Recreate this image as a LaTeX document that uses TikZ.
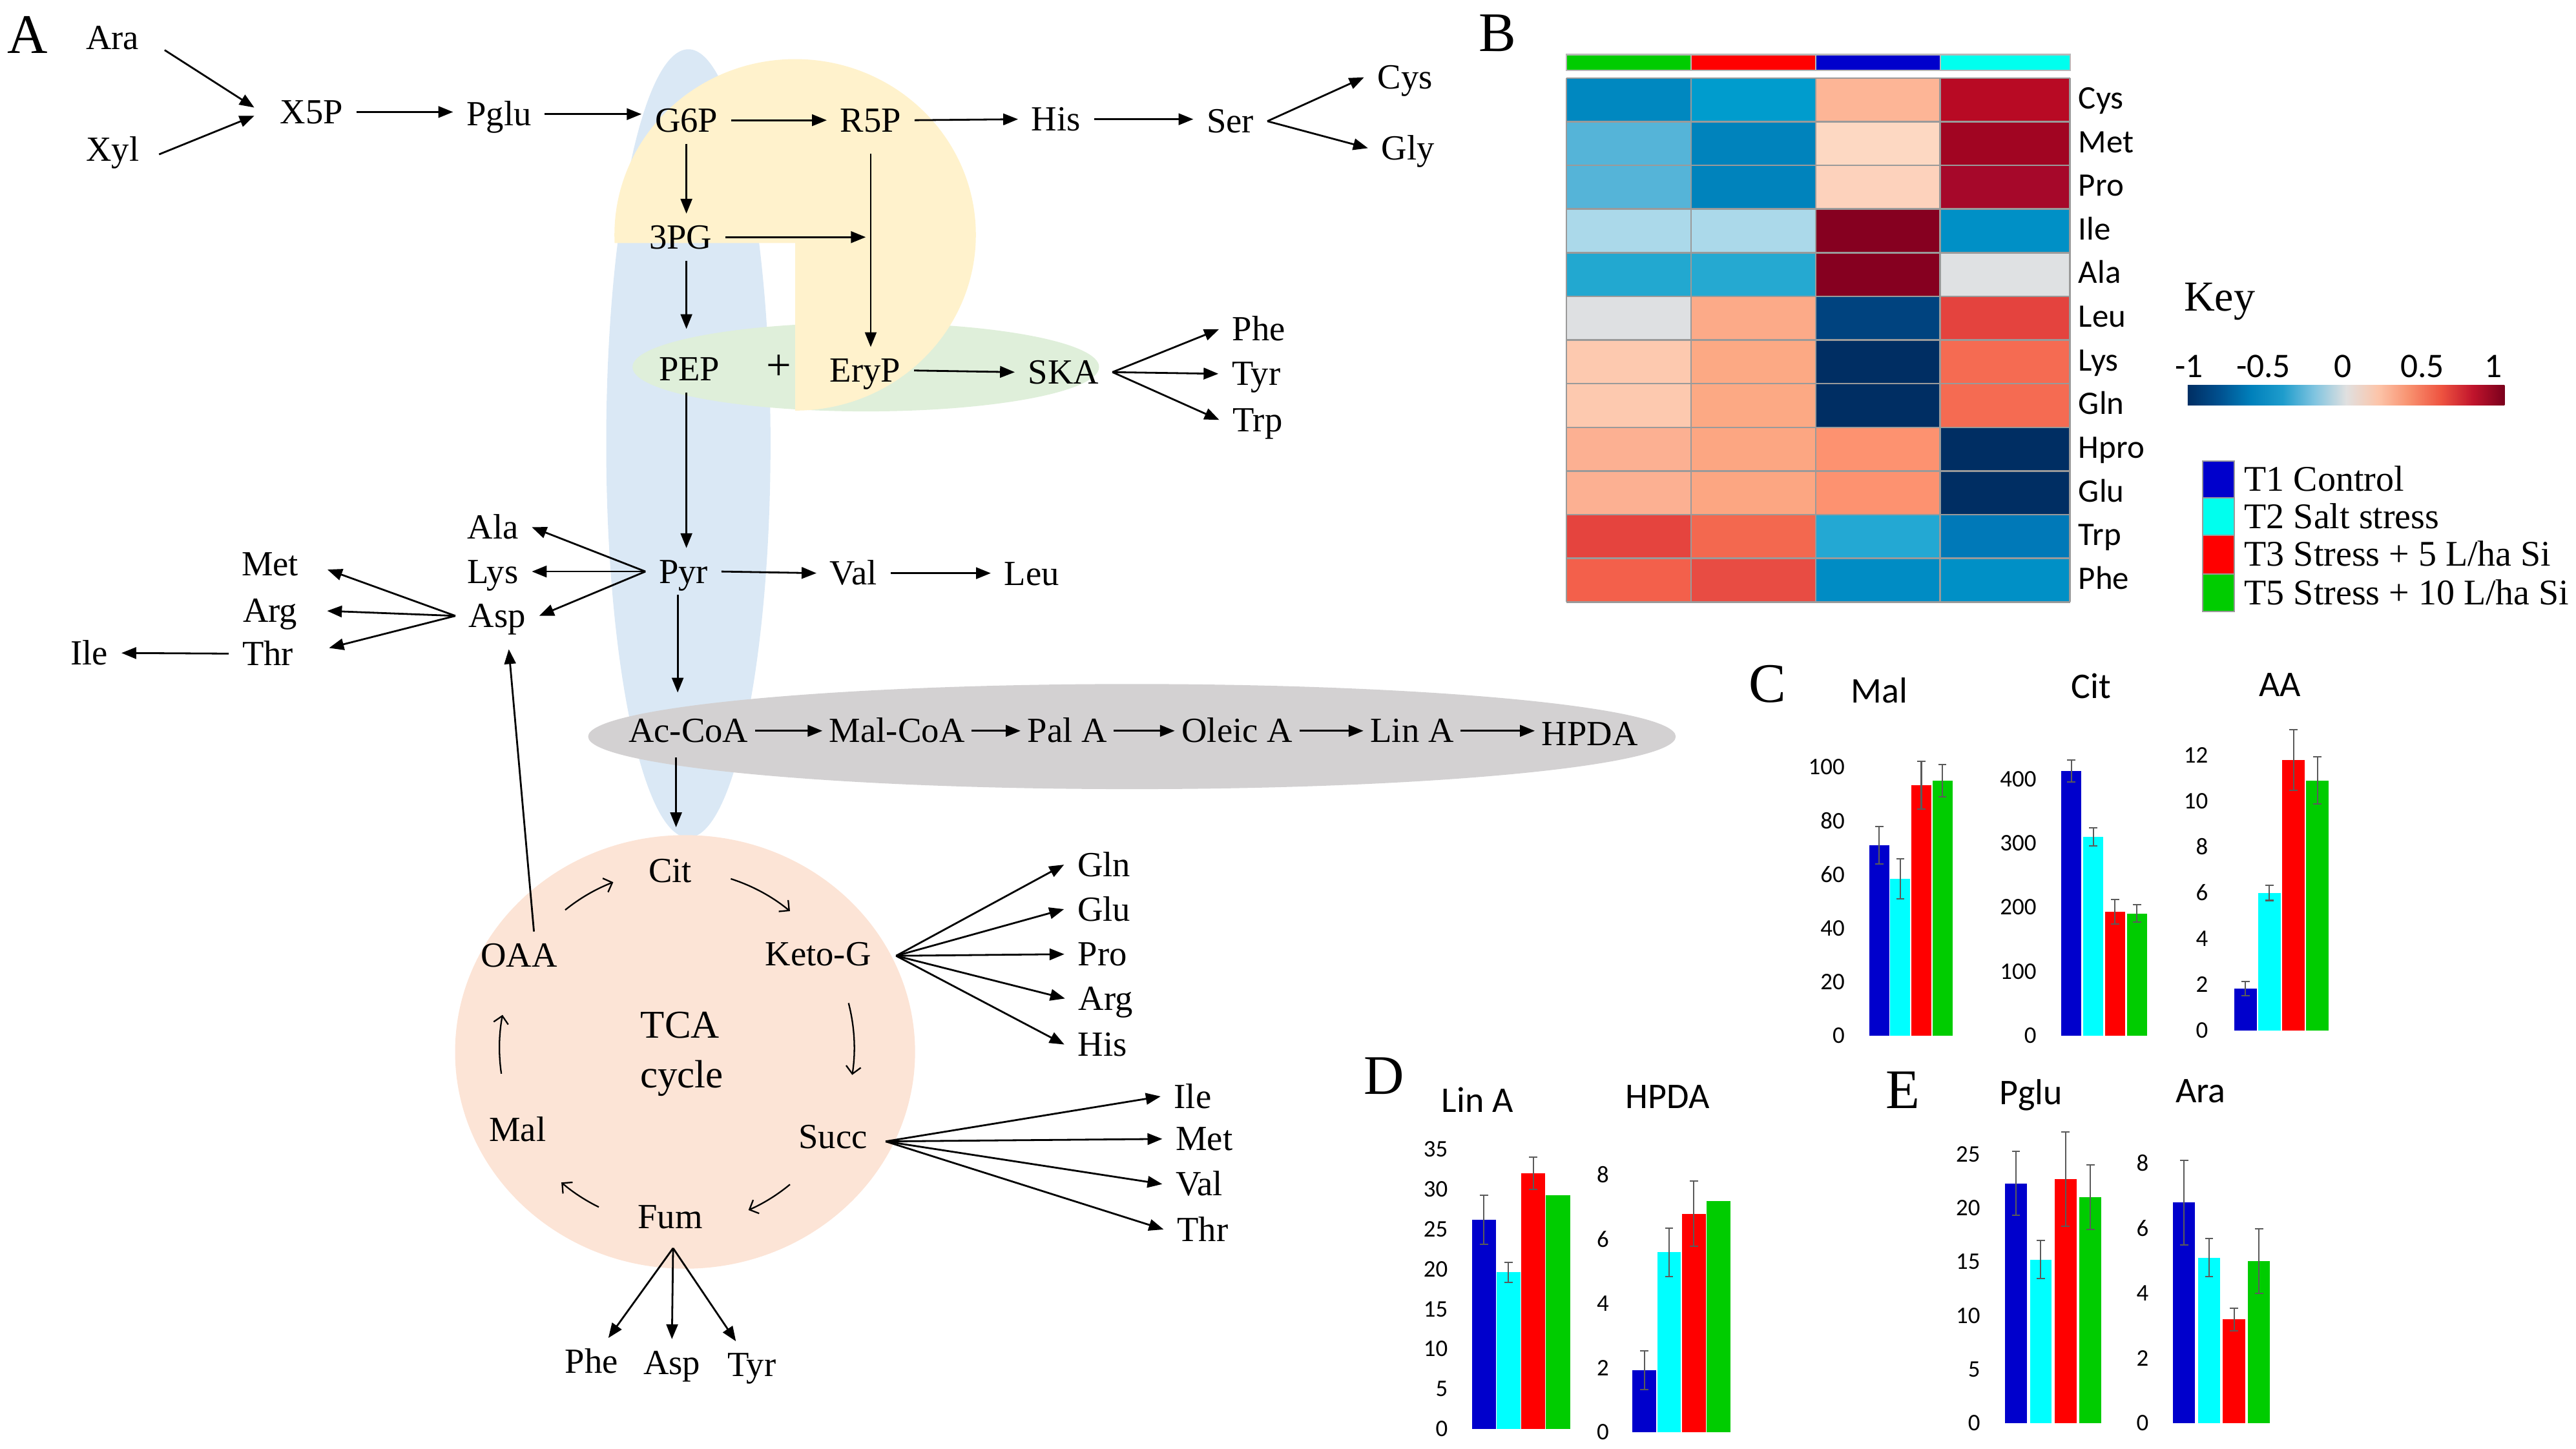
\documentclass[tikz,border=0pt]{standalone}
\usepackage{fontspec}
\setmainfont{Liberation Serif}
\newfontfamily\calfont{Carlito}
\usetikzlibrary{arrows.meta}
\definecolor{bgblue}{HTML}{DAE8F5}
\definecolor{bgyellow}{HTML}{FFF2CC}
\definecolor{bggreen}{HTML}{DFEFDA}
\definecolor{bggray}{HTML}{D3D1D2}
\definecolor{bgpeach}{HTML}{FCE4D6}
\definecolor{cb}{HTML}{0000CC}
\definecolor{cc}{HTML}{00FFFF}
\definecolor{cr}{HTML}{FF0000}
\definecolor{cg}{HTML}{00CC00}
\definecolor{gridc}{HTML}{9A9A9A}
\definecolor{errc}{HTML}{5A5A5A}
\definecolor{rb0}{HTML}{002E63}
\definecolor{rb1}{HTML}{00508F}
\definecolor{rb2}{HTML}{0080BB}
\definecolor{rb3}{HTML}{1E9CCC}
\definecolor{rb4}{HTML}{80C4E0}
\definecolor{rb5}{HTML}{E0E0E0}
\definecolor{rb6}{HTML}{FCC5AA}
\definecolor{rb7}{HTML}{F8906E}
\definecolor{rb8}{HTML}{EE5340}
\definecolor{rb9}{HTML}{C0142C}
\definecolor{rb10}{HTML}{7A001C}
\pgfdeclarehorizontalshading{rdbu}{100bp}{color(0bp)=(rb0); color(25bp)=(rb0); color(30bp)=(rb1); color(35bp)=(rb2); color(40bp)=(rb3); color(45bp)=(rb4); color(50bp)=(rb5); color(55bp)=(rb6); color(60bp)=(rb7); color(65bp)=(rb8); color(70bp)=(rb9); color(75bp)=(rb10); color(100bp)=(rb10)}
\newcommand{\barchart}[9]{%
 \foreach \t in {#8} {\node[tick] (#1t\t) at (#2,{#3-\t*#4}) {\t};}
 \foreach \vv/\ee/\cl [count=\k from 0] in {#9} {
   \pgfmathsetmacro\xa{#5+\k*#6}
   \pgfmathsetmacro\xb{\xa+#7}
   \pgfmathsetmacro\xc{\xa+#7/2}
   \pgfmathsetmacro\yt{#3-\vv*#4}
   \fill[\cl] (\xa,#3) rectangle (\xb,\yt);
   \ifdim\ee pt>0pt
     \pgfmathsetmacro\ya{\yt-\ee*#4}
     \pgfmathsetmacro\yb{\yt+\ee*#4}
     \draw[errb] (\xc,\ya) -- (\xc,\yb) (\xc-2.5,\ya) -- (\xc+2.5,\ya) (\xc-2.5,\yb) -- (\xc+2.5,\yb);
   \fi
 }}
\begin{document}
\begin{tikzpicture}[x=1pt,y=-1pt,
  pw/.style={font=\fontsize{21.5}{24}\selectfont, inner xsep=8pt, inner ysep=7pt, text height=14.2pt, text depth=0pt},
  chainn/.style={pw, inner xsep=4pt},
  tcat/.style={font=\fontsize{24}{26}\selectfont, inner sep=0pt, text height=15.8pt, text depth=0pt},
  lab/.style={font=\fontsize{34}{38}\selectfont, inner sep=0pt, text height=22.5pt, text depth=0pt},
  hml/.style={font=\calfont\fontsize{20}{22}\selectfont, anchor=west, inner sep=0pt, text height=12.9pt, text depth=0pt},
  keyn/.style={font=\calfont\fontsize{21}{23}\selectfont, inner sep=0pt, text height=13.3pt, text depth=0pt},
  ttl/.style={font=\calfont\fontsize{22}{24}\selectfont, inner sep=0pt, text height=14.2pt, text depth=0pt},
  tick/.style={font=\calfont\fontsize{14.5}{16}\selectfont, anchor=east, inner sep=0pt, text height=9.2pt, text depth=0pt},
  leg/.style={font=\fontsize{22}{24}\selectfont, anchor=west, inner sep=0pt, text height=14.6pt, text depth=0pt},
  arr/.style={line width=1.1pt, -{Triangle[length=9pt,width=7pt]}},
  cyc/.style={line width=0.9pt, -{Straight Barb[length=4.5pt,width=9pt]}},
  errb/.style={line width=0.8pt, draw=errc},
  gridl/.style={line width=1pt, draw=gridc}]
\useasboundingbox (0,0) rectangle (1568,882);

% ---------- background shapes ----------
\fill[bgblue] (419,270) ellipse [x radius=50, y radius=240];
\fill[bggreen] (527,223.5) ellipse [x radius=142, y radius=27];
\begin{scope}
 \clip (360,20) -- (610,20) -- (610,270) -- (484,270) -- (484,148) -- (360,148) -- cycle;
 \fill[bgyellow] (484,143) ellipse [x radius=110, y radius=107];
\end{scope}
\fill[bggray] (689,448.5) ellipse [x radius=331, y radius=32];
\fill[bgpeach] (417,640.5) ellipse [x radius=140, y radius=132];

% ---------- panel letters ----------
\node[lab] (lA) at (16.8,21) {A};
\node[lab] (lB) at (911.4,20) {B};
\node[lab] (lC) at (1076,416.5) {C};
\node[lab] (lD) at (842.5,655) {D};
\node[lab] (lE) at (1158.3,663.7) {E};

% ---------- pathway nodes ----------
\node[pw] (ara) at (68.5,23) {Ara};
\node[pw] (xyl) at (68.5,91) {Xyl};
\node[pw] (x5p) at (189.6,68.2) {X5P};
\node[pw] (pglu) at (303.7,69.5) {Pglu};
\node[pw] (g6p) at (417.8,73.2) {G6P};
\node[pw] (r5p) at (530,73.2) {R5P};
\node[pw] (his1) at (642.8,72.6) {His};
\node[pw] (ser) at (748.9,73.8) {Ser};
\node[pw] (cys) at (855.2,47.1) {Cys};
\node[pw] (gly) at (857,90.2) {Gly};
\node[pw] (pg3) at (414.3,144.4) {3PG};
\node[pw] (pep) at (419.6,224.6) {PEP};
\node[font=\fontsize{27}{29}\selectfont, inner sep=0pt] (plus) at (474,223.6) {+};
\node[pw] (eryp) at (526.7,225.6) {EryP};
\node[pw] (ska) at (647.4,226.6) {SKA};
\node[pw] (phe1) at (766.3,200.5) {Phe};
\node[pw] (tyr1) at (764.6,227.6) {Tyr};
\node[pw] (trp1) at (765.5,255.7) {Trp};
\node[pw] (pyr) at (416,348) {Pyr};
\node[pw] (val1) at (519.5,349) {Val};
\node[pw] (leu1) at (628,349.5) {Leu};
\node[pw] (ala1) at (300,321) {Ala};
\node[pw] (lys1) at (300,348) {Lys};
\node[pw] (asp1) at (302.7,375) {Asp};
\node[pw] (met1) at (164.4,343.4) {Met};
\node[pw] (arg1) at (164.4,371.6) {Arg};
\node[pw] (thr1) at (163,398) {Thr};
\node[pw] (ile1) at (54.4,397.6) {Ile};
\node[chainn] (acoa) at (419,445) {Ac-CoA};
\node[chainn] (mcoa) at (546,445) {Mal-CoA};
\node[chainn] (pala) at (649.6,445) {Pal A};
\node[chainn] (olea) at (753,445) {Oleic A};
\node[chainn] (lina) at (859.5,445) {Lin A};
\node[chainn] (hpda) at (967.7,447) {HPDA};
\node[pw] (cit) at (408,530) {Cit};
\node[pw] (keto) at (498,581) {Keto-G};
\node[pw] (oaa) at (316,581.5) {OAA};
\node[tcat] (tca) at (414,624) {TCA};
\node[tcat] (cycle) at (415,654.5) {cycle};
\node[pw] (mal1) at (315,688) {Mal};
\node[pw] (succ) at (507,692) {Succ};
\node[pw] (fum) at (408,741) {Fum};
\node[pw] (gln2) at (672,526.5) {Gln};
\node[pw] (glu2) at (672,553.6) {Glu};
\node[pw] (pro2) at (671,581) {Pro};
\node[pw] (arg2) at (673,608) {Arg};
\node[pw] (his2) at (671,636) {His};
\node[pw] (ile2) at (726,667.6) {Ile};
\node[pw] (met2) at (733,693.5) {Met};
\node[pw] (val2) at (730,721) {Val};
\node[pw] (thr2) at (732,748.6) {Thr};
\node[pw] (phe2) at (360,829) {Phe};
\node[pw] (asp2) at (409,829.7) {Asp};
\node[pw] (tyr2) at (457.6,831) {Tyr};
\coordinate (cycc) at (412,638);

% ---------- pathway arrows ----------
\draw[arr] ([shift={(7.4,7.5)}]ara.east) -- ([shift={(-7.5,-2.7)}]x5p.west);
\draw[arr] ([shift={(4,3)}]xyl.east) -- ([shift={(-7.5,2.3)}]x5p.west);
\draw[arr] (x5p.east) -- (x5p.east -| pglu.west);
\draw[arr] (pglu.east) -- (pglu.east -| g6p.west);
\draw[arr] (g6p.east) -- (r5p.west);
\draw[arr] (r5p.east) -- (his1.west);
\draw[arr] (his1.east) -- (his1.east -| ser.west);
\draw[arr] (ser.east) -- (cys.west);
\draw[arr] (ser.east) -- (gly.west);
\draw[arr] (g6p.south) -- (g6p.south |- pg3.north);
\draw[arr] (pg3.east) -- ([shift={(-3,0)}]pg3.east -| r5p.south);
\draw[arr] ([shift={(0,6)}]r5p.south) -- (r5p.south |- eryp.north);
\draw[arr] (g6p.south |- pg3.south) -- ([shift={(0,-10)}]g6p.south |- pep.north);
\draw[arr] (eryp.east) -- (ska.west);
\draw[arr] (ska.east) -- (phe1.west);
\draw[arr] (ska.east) -- (tyr1.west);
\draw[arr] (ska.east) -- (trp1.west);
\draw[arr] (g6p.south |- pep.south) -- (g6p.south |- pyr.north);
\draw[arr] (pyr.east) -- (val1.west);
\draw[arr] (val1.east) -- (val1.east -| leu1.west);
\draw[arr] (pyr.west) -- (ala1.east);
\draw[arr] (pyr.west) -- (lys1.east);
\draw[arr] (pyr.west) -- (asp1.east);
\draw[arr, shorten >=10pt] (asp1.west) -- (met1.east);
\draw[arr, shorten >=10pt] (asp1.west) -- (arg1.east);
\draw[arr, shorten >=14pt] (asp1.west) -- (thr1.east);
\draw[arr] (thr1.west) -- (ile1.east);
\draw[arr] ([shift={(-3.5,0)}]pyr.south) -- ([shift={(-3.5,-9)}]pyr.south |- acoa.north);
\draw[arr] (acoa.east) -- (mcoa.west);
\draw[arr] (mcoa.east) -- (pala.west);
\draw[arr] (pala.east) -- (olea.west);
\draw[arr] (olea.east) -- (lina.west);
\draw[arr] (lina.east) -- (lina.east -| hpda.west);
\draw[arr] ([shift={(-7.5,2)}]acoa.south) -- ([shift={(-7.5,-12)}]acoa.south |- cit.north);
\draw[arr] ([shift={(9,0)}]oaa.north) -- ([shift={(7,6)}]asp1.south);
\draw[arr] ([shift={(7,1)}]keto.east) -- (gln2.west);
\draw[arr] ([shift={(7,1)}]keto.east) -- (glu2.west);
\draw[arr] ([shift={(7,1)}]keto.east) -- (pro2.west);
\draw[arr] ([shift={(7,1)}]keto.east) -- (arg2.west);
\draw[arr] ([shift={(7,1)}]keto.east) -- (his2.west);
\draw[arr] ([shift={(3,3)}]succ.east) -- (ile2.west);
\draw[arr] ([shift={(3,3)}]succ.east) -- (met2.west);
\draw[arr] ([shift={(3,3)}]succ.east) -- (val2.west);
\draw[arr] ([shift={(3,3)}]succ.east) -- (thr2.west);
\draw[arr] ([shift={(1.7,4.7)}]fum.south) -- (phe2);
\draw[arr] ([shift={(1.7,4.7)}]fum.south) -- (asp2.north);
\draw[arr] ([shift={(1.7,4.7)}]fum.south) -- (tyr2);

% ---------- TCA cycle arrows ----------
\draw[cyc] (cycc) ++(-129:108) arc[start angle=-129, end angle=-111, radius=108];
\draw[cyc] (cycc) ++(-72.3:108) arc[start angle=-72.3, end angle=-50.4, radius=108];
\draw[cyc] (cycc) ++(-14.6:108) arc[start angle=-14.6, end angle=8.8, radius=108];
\draw[cyc] (cycc) ++(50.4:108) arc[start angle=50.4, end angle=66.2, radius=108];
\draw[cyc] (cycc) ++(116.1:108) arc[start angle=116.1, end angle=130.6, radius=108];
\draw[cyc] (cycc) ++(171.6:108) arc[start angle=171.6, end angle=190.7, radius=108];

% ---------- heatmap ----------
\fill[cg] (953.5,33.2) rectangle (1029.3,42.8);
\fill[cr] (1029.3,33.2) rectangle (1105.3,42.8);
\fill[cb] (1105.3,33.2) rectangle (1181,42.8);
\definecolor{hcy}{HTML}{00FFEE}
\fill[hcy] (1181,33.2) rectangle (1260,42.8);
\draw[line width=0.9pt, draw=gridc!70] (953.5,33.2) rectangle (1260,42.8);
\foreach \xx in {1029.3,1105.3,1181} {\draw[line width=0.9pt, draw=gridc!70] (\xx,33.2) -- (\xx,42.8);}
\foreach \lab/\hA/\hB/\hC/\hD [count=\i from 0] in {
  Cys/0088C0/009CCD/FDB596/B80A24,
  Met/55B4D8/0083BC/FDD8C2/A10522,
  Pro/55B4D8/0083BC/FDD2BC/A6082A,
  Ile/ABD9EA/ABD9EA/860020/0090C6,
  Ala/22A8D0/25A9D1/860020/DFE1E3,
  Leu/DEE0E2/FCAA88/00437F/E4433E,
  Lys/FDC9AF/FCA984/002E63/F56B52,
  Gln/FDC9AF/FCA984/002E63/F56B52,
  Hpro/FCB092/FCA682/FD9270/002E63,
  Glu/FCB092/FCA682/FD9270/002E63,
  Trp/E5443E/F3684F/23A8D3/0079B8,
  Phe/F3604B/E84C43/008CC4/0090C6} {
  \definecolor{hmA}{HTML}{\hA}
  \definecolor{hmB}{HTML}{\hB}
  \definecolor{hmC}{HTML}{\hC}
  \definecolor{hmD}{HTML}{\hD}
  \pgfmathsetmacro\ytop{47.5+\i*26.59}
  \pgfmathsetmacro\ybot{47.5+(\i+1)*26.59}
  \fill[hmA] (953.5,\ytop) rectangle (1029.3,\ybot);
  \fill[hmB] (1029.3,\ytop) rectangle (1105.3,\ybot);
  \fill[hmC] (1105.3,\ytop) rectangle (1181,\ybot);
  \fill[hmD] (1181,\ytop) rectangle (1260,\ybot);
  \node[hml] (hm\i) at (1265,{(\ytop+\ybot)/2-1}) {\lab};
}
\foreach \xx in {953.5,1029.3,1105.3,1181,1260} {\draw[gridl] (\xx,47.5) -- (\xx,366.6);}
\foreach \j in {0,...,12} {\draw[gridl] (953.5,{47.5+\j*26.59}) -- (1260,{47.5+\j*26.59});}

% ---------- key ----------
\node[font=\fontsize{26}{28}\selectfont, inner sep=0pt, text height=17.2pt, text depth=0pt] (key) at (1351,180.6) {Key};
\node[keyn] (k1) at (1332.5,223) {-1};
\node[keyn] (k2) at (1377.7,223) {-0.5};
\node[keyn] (k3) at (1426,223) {0};
\node[keyn] (k4) at (1474.4,223) {0.5};
\node[keyn] (k5) at (1517.5,223) {1};
\shade[shading=rdbu] (1331.6,234.7) rectangle (1524.5,246.6);

% ---------- legend ----------
\filldraw[fill=cb, draw=gridc, line width=0.8pt] (1340.7,280.8) rectangle (1360,303);
\filldraw[fill=hcy, draw=gridc, line width=0.8pt] (1340.7,303) rectangle (1360,326);
\filldraw[fill=cr, draw=gridc, line width=0.8pt] (1340.7,326) rectangle (1360,349.5);
\filldraw[fill=cg, draw=gridc, line width=0.8pt] (1340.7,349.5) rectangle (1360,372.5);
\node[leg] (lg1) at (1366,291.7) {T1 Control};
\node[leg] (lg2) at (1366,314.7) {T2 Salt stress};
\node[leg] (lg3) at (1366,337.5) {T3 Stress + 5 L/ha Si};
\node[leg] (lg4) at (1366,361) {T5 Stress + 10 L/ha Si};

% ---------- bar charts ----------
\node[ttl] (tMal) at (1144,421) {Mal};
\node[ttl] (tCit) at (1272.8,418.3) {Cit};
\node[ttl] (tAA) at (1387.7,417) {AA};
\node[ttl] (tLin) at (899.3,670.2) {Lin A};
\node[ttl] (tHP) at (1015,667.8) {HPDA};
\node[ttl] (tPg) at (1236.1,665.4) {Pglu};
\node[ttl] (tAr) at (1339.5,664.2) {Ara};
\barchart{mal}{1123}{630.5}{1.633}{1137.8}{12.8}{12.2}{0,20,...,100}{71/7/cb, 58.4/7.5/cc, 93.3/9/cr, 95/6/cg}
\barchart{cit}{1239.7}{630.5}{0.39}{1254.7}{13.3}{12.2}{0,100,...,400}{412.8/17.4/cb, 309.7/14.1/cc, 193.6/19.2/cr, 190.5/13.6/cg}
\barchart{aa}{1344.2}{627.5}{13.97}{1360}{14.6}{13.6}{0,2,...,12}{1.82/0.31/cb, 6.0/0.33/cc, 11.8/1.32/cr, 10.9/1.02/cg}
\barchart{lin}{881.4}{870}{4.86}{895.9}{15.05}{14.6}{0,5,...,35}{26.2/3.08/cb, 19.6/1.23/cc, 32/2.04/cr, 29.3/0/cg}
\barchart{hpda}{979.5}{872}{19.55}{993.6}{15.1}{14.5}{0,2,...,8}{1.93/0.61/cb, 5.6/0.75/cc, 6.8/1.02/cr, 7.2/0/cg}
\barchart{pglu}{1205.5}{866.5}{6.544}{1220.5}{15.1}{13.2}{0,5,...,25}{22.3/2.98/cb, 15.2/1.77/cc, 22.7/4.4/cr, 21/3.0/cg}
\barchart{ara}{1308}{866.5}{19.74}{1322.7}{15.2}{13.5}{0,2,...,8}{6.8/1.31/cb, 5.1/0.59/cc, 3.2/0.35/cr, 5.0/1.0/cg}
\end{tikzpicture}
\end{document}
